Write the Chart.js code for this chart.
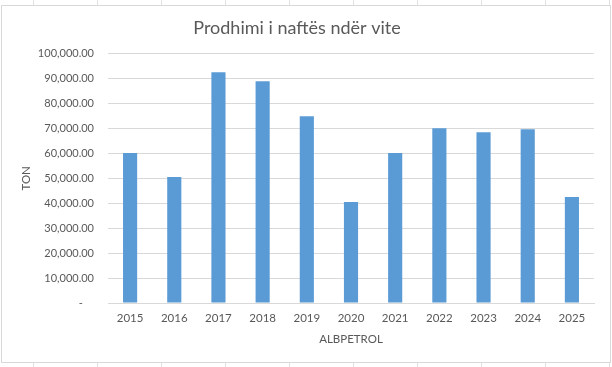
<!DOCTYPE html>
<html>
<head>
<meta charset="utf-8">
<script src="https://cdn.jsdelivr.net/npm/chart.js@4"></script>
<style>
  html, body { margin: 0; padding: 0; background: #fff; }
  canvas { display: block; }
</style>
</head>
<body>
<canvas id="chart" width="612" height="367"></canvas>
<script>
// data
const years = ['2015', '2016', '2017', '2018', '2019', '2020', '2021', '2022', '2023', '2024', '2025'];
const production = [60100, 50500, 92500, 88900, 74900, 40500, 60100, 70100, 68500, 69700, 42500];
const yTicks = [0, 10000, 20000, 30000, 40000, 50000, 60000, 70000, 80000, 90000, 100000];

const textGray = '#595959';
const gridGray = '#d9d9d9';

// spreadsheet cells peeking out around the chart + the chart frame
const sheetFrame = {
  id: 'sheetFrame',
  beforeDraw(chart) {
    const ctx = chart.ctx;
    ctx.save();
    ctx.fillStyle = '#fff';
    ctx.fillRect(0, 0, chart.width, chart.height);
    ctx.strokeStyle = '#e1e1e1';
    ctx.lineWidth = 1;
    [33.5, 97.5, 161.5, 225.5, 289.5, 353.5, 417.5, 481.5, 545.5, 609.5].forEach(x => {
      ctx.beginPath();
      ctx.moveTo(x, 0); ctx.lineTo(x, 5);
      ctx.moveTo(x, 363); ctx.lineTo(x, 367);
      ctx.stroke();
    });
    ctx.strokeStyle = gridGray;
    ctx.strokeRect(1.5, 5.5, 609, 357);
    ctx.restore();
  }
};

new Chart(document.getElementById('chart'), {
  type: 'bar',
  data: {
    labels: years,
    datasets: [{
      label: 'ALBPETROL',
      data: production,
      backgroundColor: '#5b9bd5',
      categoryPercentage: 1,
      barPercentage: 0.32
    }]
  },
  options: {
    responsive: false,
    animation: false,
    devicePixelRatio: 1,
    layout: { padding: { left: 0, right: 18, top: 0, bottom: 4 } },
    plugins: {
      legend: { display: false },
      tooltip: { enabled: false },
      title: {
        display: true,
        text: 'Prodhimi i naftës ndër vite',
        color: textGray,
        font: { family: 'Lato', size: 18, weight: 'normal' },
        padding: { top: 17, bottom: 15 }
      }
    },
    scales: {
      x: {
        grid: { display: false, drawTicks: false },
        border: { color: gridGray, width: 1 },
        ticks: { color: textGray, font: { family: 'Lato', size: 11.5 }, padding: 8 },
        title: {
          display: true,
          text: 'ALBPETROL',
          color: textGray,
          font: { family: 'Lato', size: 11.5 },
          padding: { top: 4, bottom: 17 }
        },
        afterFit: s => { s.height = 60; }
      },
      y: {
        min: 0,
        max: 100000,
        afterBuildTicks: s => { s.ticks = yTicks.map(v => ({ value: v })); },
        grid: { color: gridGray, drawTicks: false },
        border: { display: false },
        ticks: {
          color: textGray,
          font: { family: 'Lato', size: 11 },
          padding: 14,
          callback: v => v === 0 ? '-    ' : v.toLocaleString('en-US', { minimumFractionDigits: 2, maximumFractionDigits: 2 })
        },
        title: {
          display: true,
          text: 'TON',
          color: textGray,
          font: { family: 'Lato', size: 11.5 },
          padding: { top: 19, bottom: 0 }
        },
        afterFit: s => { s.width = 108; }
      }
    }
  },
  plugins: [sheetFrame]
});
</script>
</body>
</html>
